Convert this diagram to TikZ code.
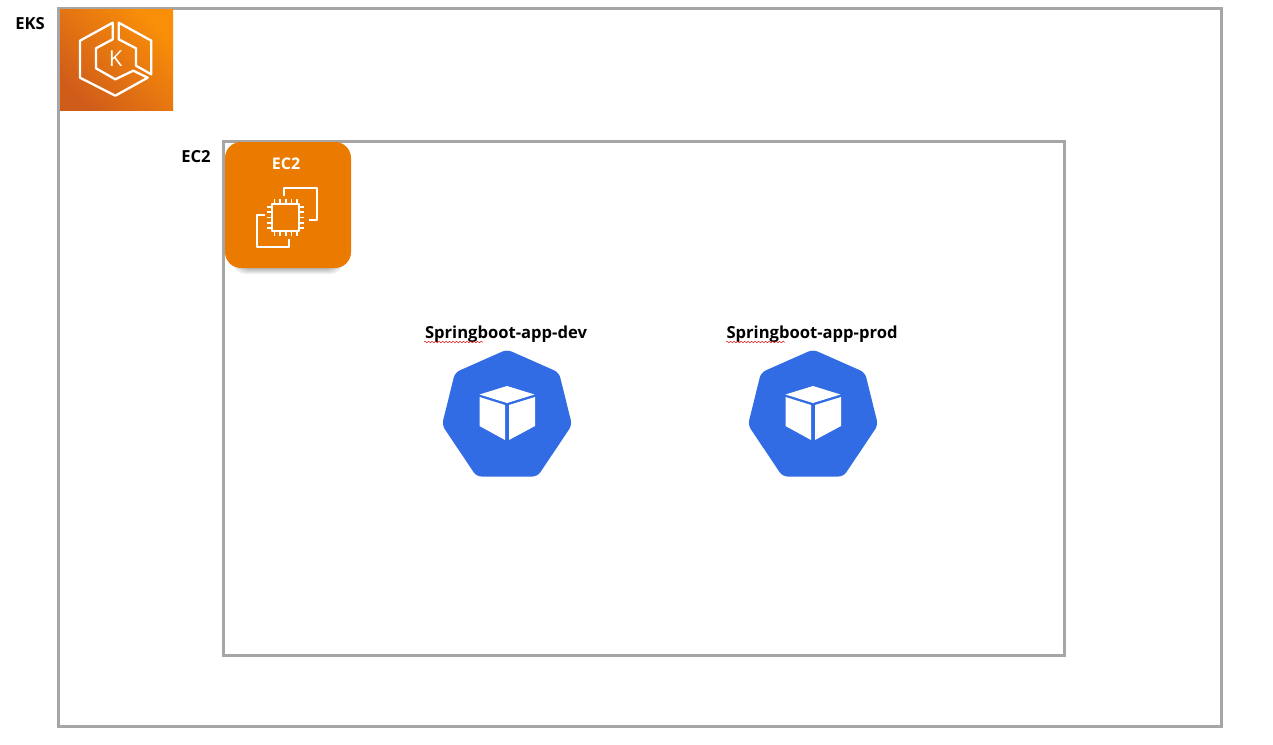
\documentclass[tikz,border=0pt]{standalone}
\usepackage{fontspec}
\setmainfont{Open Sans}
\usepackage{tikz}
\usetikzlibrary{positioning,decorations.pathmorphing}
\definecolor{framegray}{HTML}{A6A6A6}
\definecolor{ecorange}{HTML}{EB7B00}
\definecolor{kubeblue}{HTML}{326CE5}
\definecolor{eksdark}{HTML}{D05C1A}
\definecolor{ekslight}{HTML}{F98F08}
\tikzset{
  frame/.style={draw=framegray,line width=3pt},
  caption/.style={font=\bfseries\fontsize{16.6}{18}\selectfont,text=black,inner sep=0pt},
  iconline/.style={draw=white,line width=2.3pt,line join=round},
  chipline/.style={draw=white,line width=2pt,line join=round},
  squiggle/.style={draw=red!85!black,line width=0.5pt,decorate,decoration={snake,amplitude=0.7pt,segment length=3.5pt}},
  pics/kubepod/.style={code={
    \fill [kubeblue,rounded corners=5pt] (0,63.5) -- (52,40.5) -- (65,-12) -- (30.5,-63.5) -- (-30.5,-63.5) -- (-65,-12) -- (-52,40.5) -- cycle;
    \fill [white] (0,27) -- (27.5,18.5) -- (0,10) -- (-27.5,18.5) -- cycle;
    \fill [white] (-27.5,16) -- (-2,8) -- (-2,-27) -- (-27.5,-13) -- cycle;
    \fill [white] (28,16) -- (2,8) -- (2,-27) -- (28,-13) -- cycle;
  }}
}
\begin{document}
\begin{tikzpicture}[x=1pt,y=1pt]
\useasboundingbox (0,0) rectangle (1273,-744);
\fill [white] (0,0) rectangle (1273,-744);
% frames
\draw [frame] (58.5,-8) rectangle (1221,-726);
\draw [frame] (223.5,-141.5) rectangle (1064.5,-655.5);
\node [caption] (ekslabel) at (30,-23.5) {EKS};
\node [caption] (ec2label) at (196,-157) {EC2};
% eks icon
\shade [bottom color=eksdark,top color=ekslight,shading angle=-45] (60,-9) rectangle (173,-110.5);
\draw [iconline] (112.7,-22.7) -- (80,-40.7) -- (80,-77.7) -- (115.3,-95.7) -- (147.7,-77.7) -- (133.3,-70.7) -- (115.3,-79.3) -- (96,-68.3) -- (96,-48.3) -- (112.7,-39.3) -- cycle;
\draw [iconline] (118.7,-22.7) -- (151.3,-40.7) -- (151.3,-74.3) -- (136,-65.7) -- (136,-48.3) -- (118.7,-39.3) -- cycle;
\node [inner sep=0pt,text=white,font=\fontsize{22}{22}\selectfont] (ekskey) at (115.7,-58.5) {K};
% ec2 tile
\foreach \grow in {0,1,...,5}
  \fill [black,opacity=0.05,rounded corners=14pt] (232+\grow,-150) rectangle (344-\grow,-268-6+\grow);
\fill [ecorange,rounded corners=16pt] (225,-142) rectangle (351,-268);
\node [inner sep=0pt,text=white,font=\bfseries\fontsize{16}{18}\selectfont] (ec2title) at (286,-164) {EC2};
\draw [chipline] (284.3,-195.7) -- (284.3,-188.3) -- (316.7,-188.3) -- (316.7,-220) -- (309.3,-220);
\draw [chipline] (265,-215) -- (256.7,-215) -- (256.7,-246.7) -- (289,-246.7) -- (289,-239.3);
\draw [chipline] (271.7,-204) rectangle (299,-230.7);
\foreach \pin in {0,1,...,4} {
  \draw [white,line width=1.6pt] (274.5+\pin*5.6,-204) -- +(0,5);
  \draw [white,line width=1.6pt] (274.5+\pin*5.6,-230.7) -- +(0,-5);
  \draw [white,line width=1.6pt] (271.7,-206.8-\pin*5.3) -- +(-5,0);
  \draw [white,line width=1.6pt] (299,-206.8-\pin*5.3) -- +(5,0);
}
% pods
\pic (devpod) at (507,-413) {kubepod};
\pic (prodpod) at (813,-413) {kubepod};
\node [caption] (devlabel) at (506,-334) {Springboot-app-dev};
\node [caption] (prodlabel) at (812,-334) {Springboot-app-prod};
\draw [squiggle] (424,-342) -- (483,-342);
\draw [squiggle] (726,-342) -- (785,-342);
\end{tikzpicture}
\end{document}
